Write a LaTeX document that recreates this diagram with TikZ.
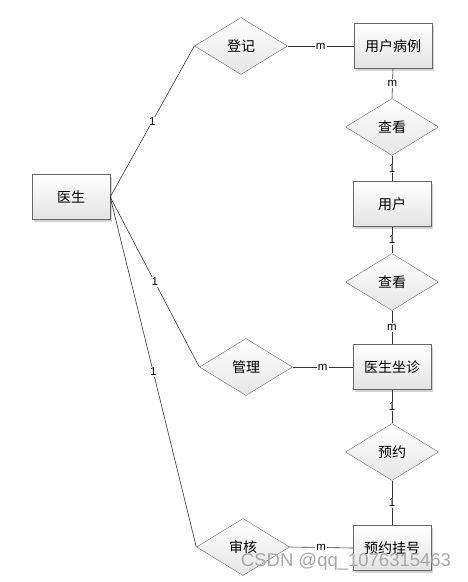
\documentclass[tikz,border=0pt]{standalone}
\usepackage{fontspec}
\setmainfont{Liberation Sans}
\newfontfamily\cjk{Noto Sans CJK SC}
\usetikzlibrary{shapes.geometric,shadows}

\begin{document}
\begin{tikzpicture}[x=1pt,y=-1pt]
\tikzset{entity/.style={draw=gray!80!black,rectangle,minimum width=78pt,minimum height=45pt,
    top color=white,bottom color=gray!22,drop shadow={opacity=0.35,shadow xshift=2pt,shadow yshift=-2pt},
    font=\cjk\fontsize{14}{16}\selectfont}}
\tikzset{relation/.style={draw=gray!80!black,diamond,minimum width=93pt,minimum height=57pt,inner sep=0pt,
    top color=white,bottom color=gray!20,font=\cjk\fontsize{14}{16}\selectfont}}
\tikzset{card/.style={fill=white,inner sep=1pt,font=\fontsize{11.5}{13}\selectfont}}
\tikzset{link/.style={draw=gray!40!black,line width=0.6pt}}
\useasboundingbox (0,0) rectangle (467,582);
% entities
\node[entity] (doctor) at (71,197) {医生};
\node[entity] (record) at (393,46) {用户病例};
\node[entity] (user) at (392,204) {用户};
\node[entity] (clinic) at (392,367) {医生坐诊};
\node[entity] (booking) at (392,548) {预约挂号};
% relations
\node[relation] (enrol) at (241,46) {登记};
\node[relation] (viewa) at (392,127) {查看};
\node[relation] (viewb) at (392,282) {查看};
\node[relation] (manage) at (246,367) {管理};
\node[relation] (reserve) at (392,452) {预约};
\node[relation] (audit) at (243,547) {审核};
% links
\draw[link] (doctor.east) -- node[card] {1} (enrol.west);
\draw[link] (doctor.east) -- node[card] {1} (manage.west);
\draw[link] (doctor.east) -- node[card] {1} (audit.west);
\draw[link] (enrol.east) -- node[card] {m} (record.west);
\draw[link] (manage.east) -- node[card] {m} (clinic.west);
\draw[link] (audit.east) -- node[card] {m} (booking.west);
\draw[link] (record.south) -- node[card] {m} (viewa.north);
\draw[link] (viewa.south) -- node[card] {1} (user.north);
\draw[link] (user.south) -- node[card] {1} (viewb.north);
\draw[link] (viewb.south) -- node[card] {m} (clinic.north);
\draw[link] (clinic.south) -- node[card] {1} (reserve.north);
\draw[link] (reserve.south) -- node[card] {1} (booking.north);
\node[text=gray!70,font=\fontsize{18.5}{20}\selectfont] (mark) at (346,562) {CSDN @qq\_1076315463};
\end{tikzpicture}
\end{document}
